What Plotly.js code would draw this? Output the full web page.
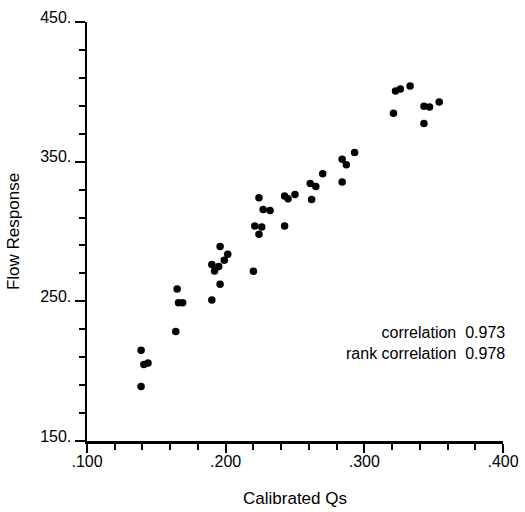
<!DOCTYPE html>
<html>
<head>
<meta charset="utf-8">
<script src="https://cdn.plot.ly/plotly-3.0.1.min.js"></script>
<style>html,body{margin:0;padding:0;background:#fff;}#chart{width:525px;height:512px;}</style>
</head>
<body>
<div id="chart"></div>
<script>
const calibratedQs = [0.139,0.141,0.144,0.139,0.164,0.165,0.166,0.169,0.190,0.196,0.190,0.195,0.192,0.196,0.2015,0.199,0.220,0.221,0.226,0.224,0.224,0.227,0.232,0.2425,0.2425,0.245,0.250,0.262,0.261,0.265,0.270,0.284,0.284,0.287,0.293,0.321,0.3225,0.326,0.333,0.343,0.347,0.354,0.343];
const flowResponse = [215.0,204.7,205.9,189.0,228.4,258.9,248.9,248.9,251.0,262.3,276.4,275.0,271.8,289.3,283.8,279.5,271.6,304.0,303.3,298.1,324.1,315.8,315.1,304.0,325.5,323.4,326.5,323.0,334.4,332.3,341.3,335.4,351.8,347.8,356.6,384.6,400.6,402.0,404.1,389.6,389.1,392.7,377.4];
const xTickVals = [0.1,0.2,0.3,0.4];
const xTickText = ['.100','.200','.300','.400'];
const corrLabel = 'correlation';
const corrValue = '0.973';
const rankLabel = 'rank correlation';
const rankValue = '0.978';

const font = 'Liberation Sans, Arial, Helvetica, sans-serif';

const trace = {
  x: calibratedQs, y: flowResponse, type: 'scatter', mode: 'markers',
  marker: {color: '#000', size: 7.5, line: {width: 0}}, hoverinfo: 'none'
};

const layout = {
  width: 525, height: 512,
  margin: {l: 87, r: 22, t: 22, b: 71},
  paper_bgcolor: '#fff', plot_bgcolor: '#fff',
  showlegend: false,
  font: {family: font, color: '#000', size: 15},
  xaxis: {
    range: [0.1, 0.4], showgrid: false, zeroline: false,
    showline: true, linecolor: '#000', linewidth: 2.5,
    tickmode: 'array', tickvals: xTickVals, ticktext: xTickText,
    ticks: 'outside', ticklen: 9, tickwidth: 2, tickcolor: '#000',
    tickfont: {family: font, size: 16}, ticklabelstandoff: -5,
    minor: {tickmode: 'linear', tick0: 0.1, dtick: 0.02, ticks: 'outside', ticklen: 6, tickwidth: 2, tickcolor: '#000', showgrid: false},
    title: {text: 'Calibrated Qs', font: {family: font, size: 17}, standoff: 24},
    automargin: false
  },
  yaxis: {
    range: [150, 450], showgrid: false, zeroline: false,
    showline: true, linecolor: '#000', linewidth: 2.5,
    tickmode: 'linear', tick0: 150, dtick: 100, ticksuffix: '.',
    ticks: 'outside', ticklen: 10, tickwidth: 2, tickcolor: '#000',
    tickfont: {family: font, size: 16}, ticklabelshift: -5,
    minor: {tickmode: 'linear', tick0: 150, dtick: 20, ticks: 'outside', ticklen: 6, tickwidth: 2, tickcolor: '#000', showgrid: false},
    title: {text: 'Flow Response', font: {family: font, size: 17}, standoff: 16},
    automargin: false
  },
  annotations: [{
    xref: 'paper', yref: 'paper', x: 1.0096, y: 0.234,
    xanchor: 'right', yanchor: 'middle', align: 'right', showarrow: false,
    text: corrLabel + '&nbsp;&nbsp;' + corrValue + '<br>' + rankLabel + '&nbsp;&nbsp;' + rankValue,
    font: {family: font, size: 16, color: '#000'}
  }]
};

Plotly.newPlot('chart', [trace], layout, {staticPlot: true, displayModeBar: false});
</script>
</body>
</html>
